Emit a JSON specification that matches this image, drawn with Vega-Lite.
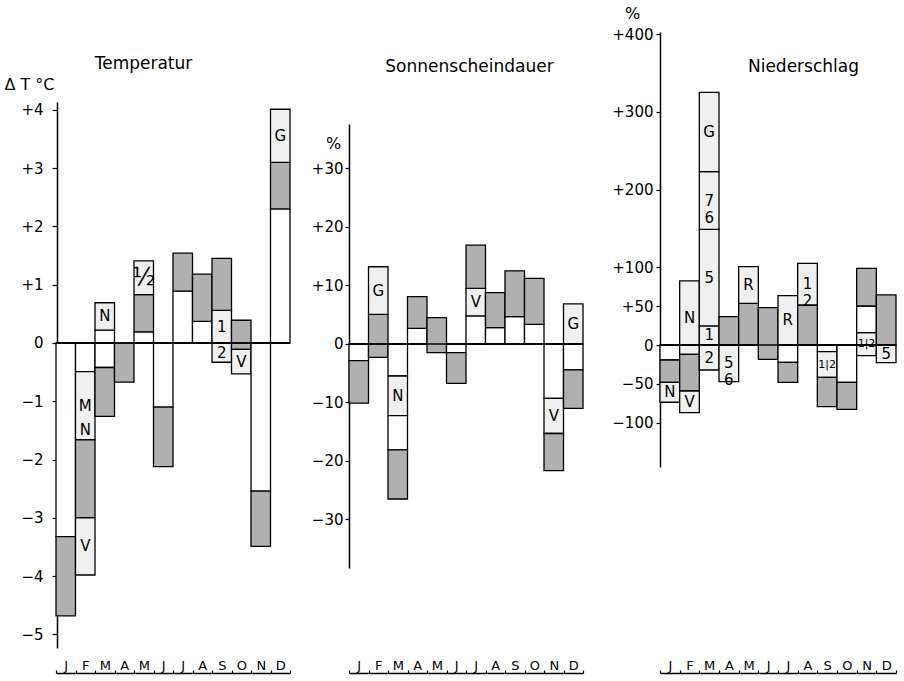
{
  "$schema": "https://vega.github.io/schema/vega-lite/v6.json",
  "width": 904,
  "height": 673,
  "padding": {"left": 0, "top": 0, "right": 0, "bottom": 8},
  "autosize": "none",
  "background": "white",
  "config": {
    "view": {"stroke": null},
    "font": "DejaVu Sans",
    "axis": {"domainColor": "black", "tickColor": "black", "labelColor": "black", "titleColor": "black", "titleFontWeight": "normal", "grid": false, "labelFont": "DejaVu Sans", "titleFont": "DejaVu Sans"}
  },
  "datasets": {
    "temp": [
      {"m": "Jan", "y0": 0, "y1": -3.32, "kind": "blank"},
      {"m": "Jan", "y0": -3.32, "y1": -4.68, "kind": "hatch"},
      {"m": "Feb", "y0": 0, "y1": -0.49, "kind": "blank"},
      {"m": "Feb", "y0": -0.49, "y1": -1.66, "kind": "dot", "label": "M\nN"},
      {"m": "Feb", "y0": -1.66, "y1": -3.0, "kind": "hatch"},
      {"m": "Feb", "y0": -3.0, "y1": -3.98, "kind": "dot", "label": "V"},
      {"m": "Mar", "y0": 0, "y1": 0.22, "kind": "blank"},
      {"m": "Mar", "y0": 0.22, "y1": 0.69, "kind": "dot", "label": "N"},
      {"m": "Mar", "y0": 0, "y1": -0.42, "kind": "blank"},
      {"m": "Mar", "y0": -0.42, "y1": -1.26, "kind": "hatch"},
      {"m": "Apr", "y0": 0, "y1": -0.67, "kind": "hatch"},
      {"m": "May", "y0": 0, "y1": 0.19, "kind": "blank"},
      {"m": "May", "y0": 0.19, "y1": 0.83, "kind": "hatch"},
      {"m": "May", "y0": 0.83, "y1": 1.41, "kind": "dot", "label": "½"},
      {"m": "Jun", "y0": 0, "y1": -1.1, "kind": "blank"},
      {"m": "Jun", "y0": -1.1, "y1": -2.12, "kind": "hatch"},
      {"m": "Jul", "y0": 0, "y1": 0.89, "kind": "blank"},
      {"m": "Jul", "y0": 0.89, "y1": 1.54, "kind": "hatch"},
      {"m": "Aug", "y0": 0, "y1": 0.37, "kind": "blank"},
      {"m": "Aug", "y0": 0.37, "y1": 1.18, "kind": "hatch"},
      {"m": "Sep", "y0": 0, "y1": 0.56, "kind": "dot", "label": "1"},
      {"m": "Sep", "y0": 0.56, "y1": 1.45, "kind": "hatch"},
      {"m": "Sep", "y0": 0, "y1": -0.33, "kind": "dot", "label": "2"},
      {"m": "Oct", "y0": -0.11, "y1": 0.39, "kind": "hatch"},
      {"m": "Oct", "y0": -0.11, "y1": -0.53, "kind": "dot", "label": "V"},
      {"m": "Nov", "y0": 0, "y1": -2.54, "kind": "blank"},
      {"m": "Nov", "y0": -2.54, "y1": -3.49, "kind": "hatch"},
      {"m": "Dec", "y0": 0, "y1": 2.3, "kind": "blank"},
      {"m": "Dec", "y0": 2.3, "y1": 3.1, "kind": "hatch"},
      {"m": "Dec", "y0": 3.1, "y1": 4.01, "kind": "dot", "label": "G"}
    ],
    "sun": [
      {"m": "Jan", "y0": 0, "y1": -2.85, "kind": "blank"},
      {"m": "Jan", "y0": -2.85, "y1": -10.1, "kind": "hatch"},
      {"m": "Feb", "y0": -2.28, "y1": 5.07, "kind": "hatch"},
      {"m": "Feb", "y0": 5.07, "y1": 13.2, "kind": "dot", "label": "G"},
      {"m": "Mar", "y0": 0, "y1": -5.47, "kind": "blank"},
      {"m": "Mar", "y0": -5.47, "y1": -12.25, "kind": "dot", "label": "N"},
      {"m": "Mar", "y0": -12.25, "y1": -18.1, "kind": "blank"},
      {"m": "Mar", "y0": -18.1, "y1": -26.5, "kind": "hatch"},
      {"m": "Apr", "y0": 0, "y1": 2.68, "kind": "blank"},
      {"m": "Apr", "y0": 2.68, "y1": 8.09, "kind": "hatch"},
      {"m": "May", "y0": -1.48, "y1": 4.5, "kind": "hatch"},
      {"m": "Jun", "y0": 0, "y1": -1.48, "kind": "blank"},
      {"m": "Jun", "y0": -1.48, "y1": -6.72, "kind": "hatch"},
      {"m": "Jul", "y0": 0, "y1": 4.79, "kind": "blank"},
      {"m": "Jul", "y0": 4.79, "y1": 9.5, "kind": "dot", "label": "V"},
      {"m": "Jul", "y0": 9.5, "y1": 16.9, "kind": "hatch"},
      {"m": "Aug", "y0": 0, "y1": 2.8, "kind": "blank"},
      {"m": "Aug", "y0": 2.8, "y1": 8.77, "kind": "hatch"},
      {"m": "Sep", "y0": 0, "y1": 4.67, "kind": "blank"},
      {"m": "Sep", "y0": 4.67, "y1": 12.5, "kind": "hatch"},
      {"m": "Oct", "y0": 0, "y1": 3.36, "kind": "blank"},
      {"m": "Oct", "y0": 3.36, "y1": 11.2, "kind": "hatch"},
      {"m": "Nov", "y0": 0, "y1": -9.29, "kind": "blank"},
      {"m": "Nov", "y0": -9.29, "y1": -15.3, "kind": "dot", "label": "V"},
      {"m": "Nov", "y0": -15.3, "y1": -21.65, "kind": "hatch"},
      {"m": "Dec", "y0": 0, "y1": 6.84, "kind": "dot", "label": "G"},
      {"m": "Dec", "y0": 0, "y1": -4.44, "kind": "blank"},
      {"m": "Dec", "y0": -4.44, "y1": -11.0, "kind": "hatch"}
    ],
    "rain": [
      {"m": "Jan", "y0": 0, "y1": -19.3, "kind": "blank"},
      {"m": "Jan", "y0": -19.3, "y1": -48, "kind": "hatch"},
      {"m": "Jan", "y0": -48, "y1": -73.7, "kind": "dot", "label": "N"},
      {"m": "Feb", "y0": -12, "y1": 82.4, "kind": "dot", "label": "N"},
      {"m": "Feb", "y0": -12, "y1": -59.2, "kind": "hatch"},
      {"m": "Feb", "y0": -59.2, "y1": -87, "kind": "dot", "label": "V"},
      {"m": "Mar", "y0": 0, "y1": 24.5, "kind": "dot", "label": "1"},
      {"m": "Mar", "y0": 24.5, "y1": 148.9, "kind": "dot", "label": "5"},
      {"m": "Mar", "y0": 148.9, "y1": 223, "kind": "dot", "label": "7\n6"},
      {"m": "Mar", "y0": 223, "y1": 325, "kind": "dot", "label": "G"},
      {"m": "Mar", "y0": 0, "y1": -32.2, "kind": "dot", "label": "2"},
      {"m": "Apr", "y0": 0, "y1": 36.5, "kind": "hatch"},
      {"m": "Apr", "y0": 0, "y1": -47.2, "kind": "dot", "label": "5\n6"},
      {"m": "May", "y0": 0, "y1": 53.6, "kind": "hatch"},
      {"m": "May", "y0": 53.6, "y1": 100.8, "kind": "dot", "label": "R"},
      {"m": "Jun", "y0": -18.4, "y1": 48, "kind": "hatch"},
      {"m": "Jul", "y0": 0, "y1": 63.5, "kind": "dot", "label": "R"},
      {"m": "Jul", "y0": 0, "y1": -22.3, "kind": "blank"},
      {"m": "Jul", "y0": -22.3, "y1": -48, "kind": "hatch"},
      {"m": "Aug", "y0": 0, "y1": 51.5, "kind": "hatch"},
      {"m": "Aug", "y0": 51.5, "y1": 105, "kind": "dot", "label": "1\n2"},
      {"m": "Sep", "y0": 0, "y1": -8.6, "kind": "blank"},
      {"m": "Sep", "y0": -8.6, "y1": -41.6, "kind": "dot", "label": "1|2"},
      {"m": "Sep", "y0": -41.6, "y1": -79.4, "kind": "hatch"},
      {"m": "Oct", "y0": 0, "y1": -48, "kind": "blank"},
      {"m": "Oct", "y0": -48, "y1": -82.8, "kind": "hatch"},
      {"m": "Nov", "y0": 15.8, "y1": -13.7, "kind": "dot", "label": "1|2"},
      {"m": "Nov", "y0": 15.8, "y1": 50.2, "kind": "blank"},
      {"m": "Nov", "y0": 50.2, "y1": 98.7, "kind": "hatch"},
      {"m": "Dec", "y0": 0, "y1": 64.4, "kind": "hatch"},
      {"m": "Dec", "y0": 0, "y1": -22.7, "kind": "dot", "label": "5"}
    ]
  },
  "layer": [
    {
      "data": {"name": "temp"},
      "layer": [
        {
          "mark": {"type": "rect", "stroke": "black", "strokeWidth": 1.3},
          "encoding": {
            "x": {"field": "m", "type": "ordinal", "sort": ["Jan","Feb","Mar","Apr","May","Jun","Jul","Aug","Sep","Oct","Nov","Dec"], "scale": {"range": [56, 290], "paddingInner": 0, "paddingOuter": 0},
              "axis": {"orient": "bottom", "labelExpr": "substring(datum.label,0,1)", "labelAngle": 0, "tickBand": "extent", "tickSize": -3, "labelPadding": -1, "labelBaseline": "alphabetic", "labelFontSize": 13, "domainWidth": 1.5, "tickWidth": 1.2, "title": "Temperatur", "titleX": 143, "titleY": -610, "titleFontSize": 17, "titleAlign": "center", "titleBaseline": "middle"}},
            "y": {"field": "y0", "type": "quantitative", "scale": {"domain": [-5.232, 4.134], "range": [648, 102], "nice": false, "zero": false},
              "axis": {"orient": "left", "offset": -57, "values": [-5,-4,-3,-2,-1,0,1,2,3,4], "labelExpr": "datum.value > 0 ? '+' + format(datum.value, 'd') : format(datum.value, 'd')", "tickSize": 5, "labelPadding": 9, "labelFontSize": 15, "domainWidth": 1.5, "tickWidth": 1.2, "title": "Δ T °C", "titleAngle": 0, "titleAlign": "center", "titleBaseline": "middle", "titleX": -28, "titleY": 84, "titleFontSize": 16}},
            "y2": {"field": "y1"},
            "fill": {"field": "kind", "type": "nominal", "scale": {"domain": ["blank","hatch","dot"], "range": ["white","#b0b0b0","#f0f0f0"]}, "legend": null}
          }
        },
        {
          "mark": {"type": "rect", "stroke": "black", "strokeWidth": 1.3, "fill": null},
          "encoding": {
            "x": {"field": "m", "type": "ordinal", "sort": ["Jan","Feb","Mar","Apr","May","Jun","Jul","Aug","Sep","Oct","Nov","Dec"], "scale": {"range": [56, 290], "paddingInner": 0, "paddingOuter": 0}},
            "y": {"datum": 0, "type": "quantitative", "scale": {"domain": [-5.232, 4.134], "range": [648, 102], "nice": false, "zero": false}},
            "y2": {"datum": 0}
          }
        },
        {
          "transform": [{"filter": "isValid(datum.label)"}, {"fold": ["y0","y1"], "as": ["k","v"]}, {"aggregate": [{"op": "mean", "field": "v", "as": "v"}], "groupby": ["m","label"]}],
          "mark": {"type": "text", "fontSize": 15, "lineBreak": "\n", "lineHeight": 24, "baseline": "middle", "color": "black"},
          "encoding": {
            "x": {"field": "m", "type": "ordinal", "sort": ["Jan","Feb","Mar","Apr","May","Jun","Jul","Aug","Sep","Oct","Nov","Dec"], "scale": {"range": [56, 290], "paddingInner": 0, "paddingOuter": 0}},
            "y": {"field": "v", "type": "quantitative", "scale": {"domain": [-5.232, 4.134], "range": [648, 102], "nice": false, "zero": false}},
            "text": {"field": "label"},
            "size": {"condition": {"test": "datum.label === '½'", "value": 24}, "value": 15}
          }
        }
      ]
    },
    {
      "data": {"name": "sun"},
      "layer": [
        {
          "mark": {"type": "rect", "stroke": "black", "strokeWidth": 1.3},
          "encoding": {
            "x": {"field": "m", "type": "ordinal", "sort": ["Jan","Feb","Mar","Apr","May","Jun","Jul","Aug","Sep","Oct","Nov","Dec"], "scale": {"range": [349, 583], "paddingInner": 0, "paddingOuter": 0},
              "axis": {"orient": "bottom", "labelExpr": "substring(datum.label,0,1)", "labelAngle": 0, "tickBand": "extent", "tickSize": -3, "labelPadding": -1, "labelBaseline": "alphabetic", "labelFontSize": 13, "domainWidth": 1.5, "tickWidth": 1.2, "title": "Sonnenscheindauer", "titleX": 469, "titleY": -607, "titleFontSize": 17, "titleAlign": "center", "titleBaseline": "middle"}},
            "y": {"field": "y0", "type": "quantitative", "scale": {"domain": [-38.29, 37.6], "range": [568, 124], "nice": false, "zero": false},
              "axis": {"orient": "left", "offset": -349, "values": [-30,-20,-10,0,10,20,30], "labelExpr": "datum.value > 0 ? '+' + format(datum.value, 'd') : format(datum.value, 'd')", "tickSize": 4, "labelPadding": 2, "labelFontSize": 15, "domainWidth": 1.5, "tickWidth": 1.2, "title": "%", "titleAngle": 0, "titleAlign": "center", "titleBaseline": "middle", "titleX": -16, "titleY": 143, "titleFontSize": 16}},
            "y2": {"field": "y1"},
            "fill": {"field": "kind", "type": "nominal", "scale": {"domain": ["blank","hatch","dot"], "range": ["white","#b0b0b0","#f0f0f0"]}, "legend": null}
          }
        },
        {
          "mark": {"type": "rect", "stroke": "black", "strokeWidth": 1.3, "fill": null},
          "encoding": {
            "x": {"field": "m", "type": "ordinal", "sort": ["Jan","Feb","Mar","Apr","May","Jun","Jul","Aug","Sep","Oct","Nov","Dec"], "scale": {"range": [349, 583], "paddingInner": 0, "paddingOuter": 0}},
            "y": {"datum": 0, "type": "quantitative", "scale": {"domain": [-38.29, 37.6], "range": [568, 124], "nice": false, "zero": false}},
            "y2": {"datum": 0}
          }
        },
        {
          "transform": [{"filter": "isValid(datum.label)"}, {"fold": ["y0","y1"], "as": ["k","v"]}, {"aggregate": [{"op": "mean", "field": "v", "as": "v"}], "groupby": ["m","label"]}],
          "mark": {"type": "text", "fontSize": 15, "lineBreak": "\n", "lineHeight": 24, "baseline": "middle", "color": "black"},
          "encoding": {
            "x": {"field": "m", "type": "ordinal", "sort": ["Jan","Feb","Mar","Apr","May","Jun","Jul","Aug","Sep","Oct","Nov","Dec"], "scale": {"range": [349, 583], "paddingInner": 0, "paddingOuter": 0}},
            "y": {"field": "v", "type": "quantitative", "scale": {"domain": [-38.29, 37.6], "range": [568, 124], "nice": false, "zero": false}},
            "text": {"field": "label"}
          }
        }
      ]
    },
    {
      "data": {"name": "rain"},
      "layer": [
        {
          "mark": {"type": "rect", "stroke": "black", "strokeWidth": 1.3},
          "encoding": {
            "x": {"field": "m", "type": "ordinal", "sort": ["Jan","Feb","Mar","Apr","May","Jun","Jul","Aug","Sep","Oct","Nov","Dec"], "scale": {"range": [660, 896], "paddingInner": 0, "paddingOuter": 0},
              "axis": {"orient": "bottom", "labelExpr": "substring(datum.label,0,1)", "labelAngle": 0, "tickBand": "extent", "tickSize": -3, "labelPadding": -1, "labelBaseline": "alphabetic", "labelFontSize": 13, "domainWidth": 1.5, "tickWidth": 1.2, "title": "Niederschlag", "titleX": 803, "titleY": -607, "titleFontSize": 17, "titleAlign": "center", "titleBaseline": "middle"}},
            "y": {"field": "y0", "type": "quantitative", "scale": {"domain": [-157, 402.8], "range": [467, 32], "nice": false, "zero": false},
              "axis": {"orient": "left", "offset": -660, "values": [-100,-50,0,50,100,200,300,400], "labelExpr": "datum.value > 0 ? '+' + format(datum.value, 'd') : format(datum.value, 'd')", "tickSize": 4, "labelPadding": 3, "labelFontSize": 15, "domainWidth": 1.5, "tickWidth": 1.2, "title": "%", "titleAngle": 0, "titleAlign": "center", "titleBaseline": "middle", "titleX": -28, "titleY": 13, "titleFontSize": 16}},
            "y2": {"field": "y1"},
            "fill": {"field": "kind", "type": "nominal", "scale": {"domain": ["blank","hatch","dot"], "range": ["white","#b0b0b0","#f0f0f0"]}, "legend": null}
          }
        },
        {
          "mark": {"type": "rect", "stroke": "black", "strokeWidth": 1.3, "fill": null},
          "encoding": {
            "x": {"field": "m", "type": "ordinal", "sort": ["Jan","Feb","Mar","Apr","May","Jun","Jul","Aug","Sep","Oct","Nov","Dec"], "scale": {"range": [660, 896], "paddingInner": 0, "paddingOuter": 0}},
            "y": {"datum": 0, "type": "quantitative", "scale": {"domain": [-157, 402.8], "range": [467, 32], "nice": false, "zero": false}},
            "y2": {"datum": 0}
          }
        },
        {
          "transform": [{"filter": "isValid(datum.label)"}, {"fold": ["y0","y1"], "as": ["k","v"]}, {"aggregate": [{"op": "mean", "field": "v", "as": "v"}], "groupby": ["m","label"]}],
          "mark": {"type": "text", "fontSize": 15, "lineBreak": "\n", "lineHeight": 17, "baseline": "middle", "color": "black"},
          "encoding": {
            "x": {"field": "m", "type": "ordinal", "sort": ["Jan","Feb","Mar","Apr","May","Jun","Jul","Aug","Sep","Oct","Nov","Dec"], "scale": {"range": [660, 896], "paddingInner": 0, "paddingOuter": 0}},
            "y": {"field": "v", "type": "quantitative", "scale": {"domain": [-157, 402.8], "range": [467, 32], "nice": false, "zero": false}},
            "text": {"field": "label"},
            "size": {"condition": {"test": "indexof(datum.label, '|') >= 0", "value": 11}, "value": 15}
          }
        }
      ]
    }
  ],
  "resolve": {"scale": {"x": "independent", "y": "independent", "fill": "shared", "size": "independent"}, "axis": {"x": "independent", "y": "independent"}}
}
